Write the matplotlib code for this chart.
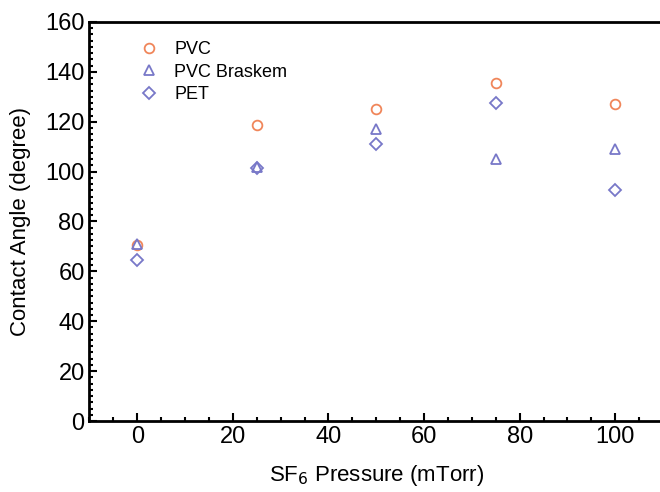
import matplotlib
matplotlib.use("Agg")
import matplotlib.pyplot as plt
from matplotlib.ticker import MultipleLocator

# SF6 pressure (mTorr)
pressure = [0, 25, 50, 75, 100]

# contact angle (degree)
pvc = [70.5, 118.5, 125, 135.5, 127]
pvc_braskem = [71, 102, 117, 105, 109]
pet = [64.5, 101.5, 111, 127.5, 92.5]

x_ticks = [0, 20, 40, 60, 80, 100]
y_ticks = [0, 20, 40, 60, 80, 100, 120, 140, 160]

plt.rcParams['font.family'] = ['Liberation Sans', 'DejaVu Sans']

fig = plt.figure(figsize=(6.6, 4.92), dpi=100)
ax = fig.add_axes([0.1356, 0.1443, 0.869, 0.811])

orange = '#f0865a'
blue = '#7878c8'
ms = 7
mew = 1.3

ax.plot(pressure, pvc, 'o', mfc='none', mec=orange, ms=ms, mew=mew,
        label='PVC')
ax.plot(pressure, pvc_braskem, '^', mfc='none', mec=blue, ms=ms, mew=mew,
        label='PVC Braskem')
ax.plot(pressure, pet, 'D', mfc='none', mec=blue, ms=ms - 1.3, mew=mew,
        label='PET')

ax.set_xlim(-10, 110)
ax.set_ylim(0, 160)
ax.set_xticks(x_ticks)
ax.set_yticks(y_ticks)
ax.xaxis.set_minor_locator(MultipleLocator(5))
ax.yaxis.set_minor_locator(MultipleLocator(2.5))
ax.tick_params(which='both', direction='in', width=1.5, labelsize=17,
               top=False, right=False)
ax.tick_params(which='major', length=6)
ax.tick_params(which='minor', length=3)
for s in ax.spines.values():
    s.set_linewidth(2)

ax.set_xlabel('SF$_6$ Pressure (mTorr)', fontsize=16, labelpad=11)
ax.set_ylabel('Contact Angle (degree)', fontsize=16, labelpad=10)

ax.legend(loc='upper left', bbox_to_anchor=(0.06, 0.97), frameon=False,
          fontsize=13, handletextpad=0.4, labelspacing=0.3,
          borderaxespad=0)

fig.savefig('out.png', dpi=100)
